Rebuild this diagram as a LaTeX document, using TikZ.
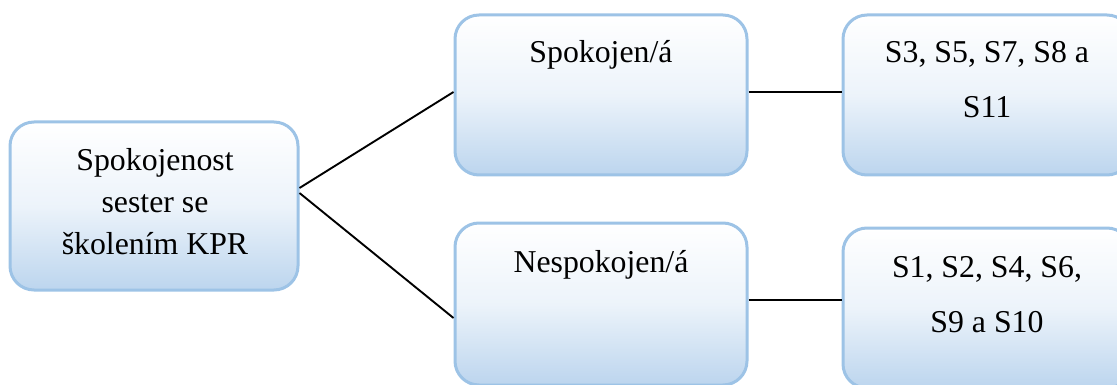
\documentclass[tikz,border=0pt]{standalone}
\usepackage{fontspec}
\setmainfont{Liberation Serif}
\usetikzlibrary{calc}
\definecolor{boxborder}{HTML}{9DC3E6}
\definecolor{boxbottom}{HTML}{BCD5EE}
\tikzset{
  box/.style={rectangle, rounded corners=24pt, draw=boxborder, line width=3pt,
    top color=white, bottom color=boxbottom, middle color=white!72!boxbottom, inner sep=0pt},
  txt/.style={anchor=base, inner sep=0pt, font=\fontsize{31.8}{40}\selectfont},
  conn/.style={draw=black, line width=1.9pt}
}
\begin{document}
\begin{tikzpicture}[x=1pt,y=-1pt]
\useasboundingbox (0,0) rectangle (1117,385);
\node[box, minimum width=288pt, minimum height=168pt] (root) at (154,206) {};
\node[box, minimum width=292pt, minimum height=160pt] (pos) at (601,95) {};
\node[box, minimum width=292pt, minimum height=162pt] (neg) at (601,304) {};
\node[box, minimum width=288pt, minimum height=160pt] (posR) at (987,95) {};
\node[box, minimum width=288pt, minimum height=160pt] (negR) at (987,308) {};

\node[txt] (t1) at (155,171) {Spokojenost};
\node[txt] (t2) at (155,212) {sester se};
\node[txt] (t3) at (155,254) {školením KPR};
\node[txt] (t4) at (601,63) {Spokojen/á};
\node[txt] (t5) at (601,272) {Nespokojen/á};
\node[txt] (t6) at (987,63) {S3, S5, S7, S8 a};
\node[txt] (t7) at (987,118) {S11};
\node[txt] (t8) at (987,277) {S1, S2, S4, S6,};
\node[txt] (t9) at (987,332) {S9 a S10};

\draw[conn] ($(root.east)+(0,-18)$) -- ($(pos.west)+(0,-3)$);
\draw[conn] ($(root.east)+(0,-13)$) -- ($(neg.west)+(0,14)$);
\draw[conn] ($(pos.east)+(0,-3)$) -- ($(posR.west)+(0,-3)$);
\draw[conn] ($(neg.east)+(0,-4)$) -- ($(negR.west)+(0,-8)$);
\end{tikzpicture}
\end{document}
